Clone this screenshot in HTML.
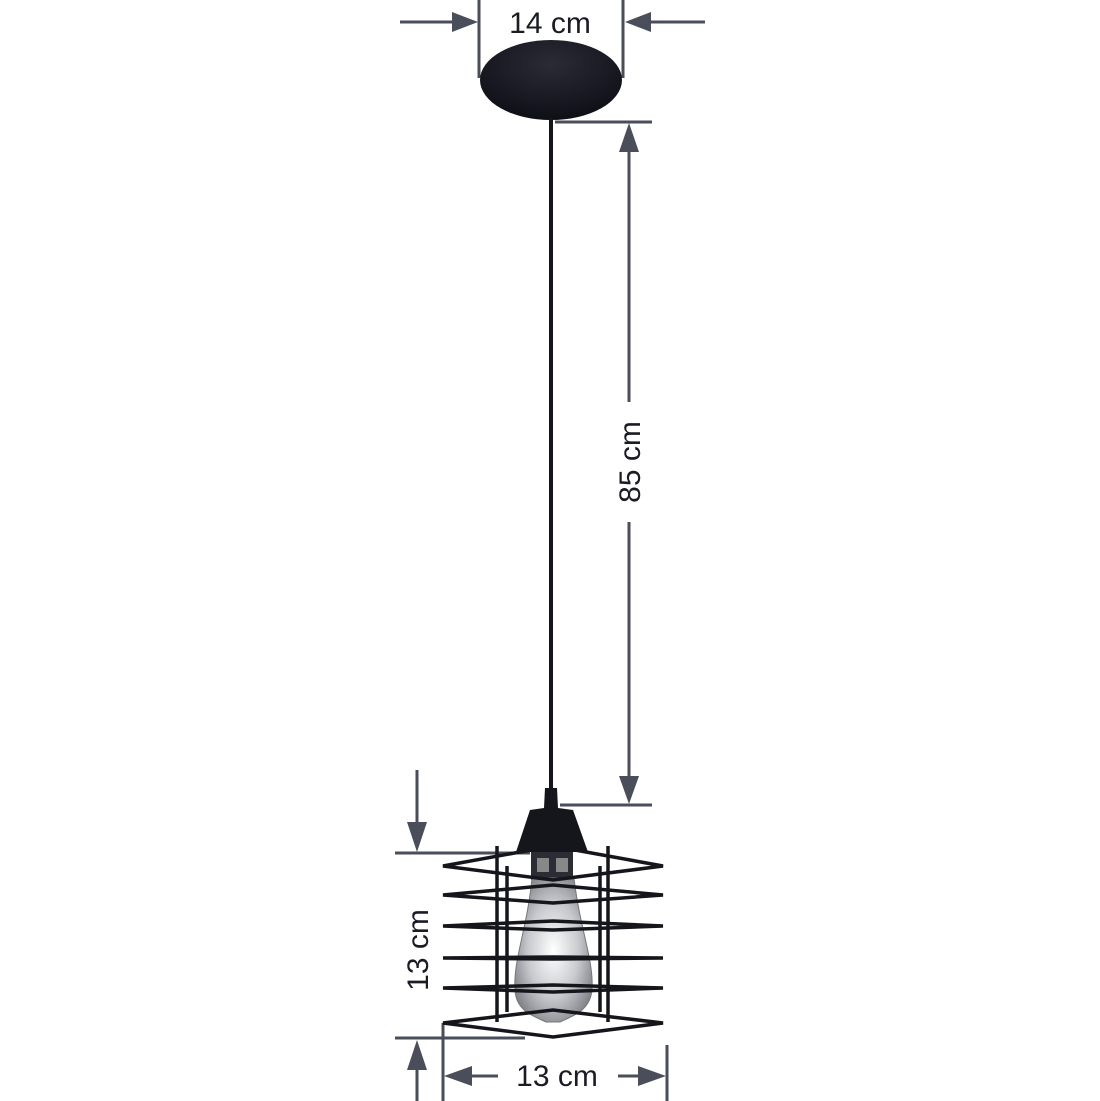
<!DOCTYPE html>
<html><head><style>
html,body{margin:0;padding:0;background:#fff;}
svg{display:block;}
text{font-family:"Liberation Sans",sans-serif;font-size:30px;fill:#1a1b24;}
</style></head><body>
<svg width="1100" height="1101" viewBox="0 0 1100 1101" xmlns="http://www.w3.org/2000/svg">
<defs>
<radialGradient id="bulb" cx="0.5" cy="0.5" r="0.6">
<stop offset="0" stop-color="#ffffff"/>
<stop offset="0.55" stop-color="#c8c9ce"/>
<stop offset="1" stop-color="#7a7b82"/>
</radialGradient>
<radialGradient id="can" cx="0.5" cy="0.3" r="0.7">
<stop offset="0" stop-color="#2a2b36"/>
<stop offset="1" stop-color="#0e0f16"/>
</radialGradient>
</defs>
<g stroke="#4a4e5a" stroke-width="3" fill="none">
<line x1="400" y1="22" x2="462" y2="22"/>
<line x1="643" y1="22" x2="705" y2="22"/>
<line x1="479" y1="0" x2="479" y2="78"/>
<line x1="623" y1="0" x2="623" y2="78"/>
<line x1="555" y1="122" x2="652" y2="122"/>
<line x1="560" y1="805" x2="652" y2="805"/>
<line x1="629" y1="140" x2="629" y2="402"/>
<line x1="629" y1="522" x2="629" y2="788"/>
<line x1="417" y1="770" x2="417" y2="835"/>
<line x1="395" y1="853" x2="530" y2="853"/>
<line x1="395" y1="1038" x2="525" y2="1038"/>
<line x1="417" y1="1058" x2="417" y2="1101"/>
<line x1="443" y1="1023" x2="443" y2="1101"/>
<line x1="667" y1="1045" x2="667" y2="1101"/>
<line x1="460" y1="1076" x2="498" y2="1076"/>
<line x1="618" y1="1076" x2="650" y2="1076"/>
</g>
<g fill="#4a4e5a">
<polygon points="478,22 452,12 452,32"/>
<polygon points="625,22 651,12 651,32"/>
<polygon points="629,123 619,152 639,152"/>
<polygon points="629,804 619,776 639,776"/>
<polygon points="417,852 407,822 427,822"/>
<polygon points="417,1040 407,1070 427,1070"/>
<polygon points="444,1076 472,1066 472,1086"/>
<polygon points="666,1076 638,1066 638,1086"/>
</g>
<text x="550" y="33" text-anchor="middle">14 cm</text>
<text transform="translate(640,462) rotate(-90)" text-anchor="middle">85 cm</text>
<text transform="translate(428,950) rotate(-90)" text-anchor="middle">13 cm</text>
<text x="557" y="1086" text-anchor="middle">13 cm</text>
<ellipse cx="551" cy="80" rx="71" ry="40" fill="url(#can)"/>
<line x1="551" y1="118" x2="551" y2="795" stroke="#15161c" stroke-width="4"/>
<path d="M545,788 L557,788 L558,808 L573,810 L588,852 L516,852 L530,810 L544,808 Z" fill="#15161c"/>
<rect x="531" y="852" width="42" height="28" fill="#2c2d34"/>
<rect x="537" y="858" width="12" height="14" fill="#888"/>
<rect x="556" y="858" width="12" height="14" fill="#888"/>
<path d="M532,878 L574,878 C580,930 594,960 592,990 C590,1010 575,1015 560,1022 L546,1022 C531,1015 516,1010 515,990 C513,960 527,930 532,878 Z" fill="url(#bulb)" stroke="#777" stroke-width="1"/>
<g stroke="#15161c" stroke-width="3.5" fill="none">
<line x1="497" y1="846" x2="497" y2="1022"/>
<line x1="608" y1="846" x2="608" y2="1022"/>
<line x1="507" y1="866" x2="507" y2="1012"/>
<line x1="600" y1="866" x2="600" y2="1012"/>
<polygon points="443,866 553,846 663,866 553,880"/>
<polygon points="443,895 553,885 663,895 553,903"/>
<polygon points="443,926 553,921 663,926 553,930"/>
<polygon points="443,958 553,957 663,958 553,959"/>
<polygon points="443,988 553,985 663,988 553,992"/>
<polygon points="443,1023 553,1010 663,1023 553,1037"/>
</g>
</svg>
</body></html>
